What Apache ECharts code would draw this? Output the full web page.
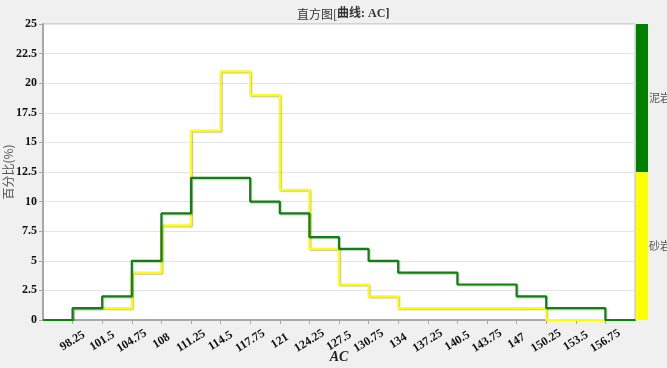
<!DOCTYPE html>
<html>
<head>
<meta charset="utf-8">
<script src="https://cdn.jsdelivr.net/npm/echarts@6/dist/echarts.min.js"></script>
<style>
html,body{margin:0;padding:0;background:#f0f0f0;}
#chart{width:667px;height:368px;}
</style>
</head>
<body>
<div id="chart"></div>
<script>
// Bin left edges (bin width 3.25), last entry is the right edge of the last bin
var binEdges = [95, 98.25, 101.5, 104.75, 108, 111.25, 114.5, 117.75, 121, 124.25, 127.5, 130.75, 134, 137.25, 140.5, 143.75, 147, 150.25, 153.5, 156.75, 160];
// Percent per bin (泥岩 = mudstone, 砂岩 = sandstone)
var mudstone  = [0, 1, 2, 5, 9, 12, 12, 10, 9, 7, 6, 5, 4, 4, 3, 3, 2, 1, 1, 0];
var sandstone = [0, 1, 1, 4, 8, 16, 21, 19, 11, 6, 3, 2, 1, 1, 1, 1, 1, 0, 0, 0];
var seriesNames = ['砂岩', '泥岩'];
var yTicks = [0, 2.5, 5, 7.5, 10, 12.5, 15, 17.5, 20, 22.5, 25];

function stepData(vals) {
  var d = [];
  for (var i = 0; i < vals.length; i++) d.push([binEdges[i], vals[i]]);
  d.push([binEdges[binEdges.length - 1], 0]);
  return d;
}

var chart = echarts.init(document.getElementById('chart'));
var serif = '"Liberation Serif", "Times New Roman", serif';
var cjk = '"Noto Sans CJK SC", sans-serif';

var gridTop = 24, gridBottom = 320;
var barX = 636, barW = 12;
var mid = gridTop + (gridBottom - gridTop) * 0.5;

chart.setOption({
  backgroundColor: '#f0f0f0',
  animation: false,
  title: {
    text: '{a|直方图[}{b|曲线: AC]}',
    left: 292,
    top: 3,
    textStyle: {
      rich: {
        a: { fontSize: 12, fontWeight: 'normal', color: '#333', fontFamily: '"Noto Sans CJK SC", serif' },
        b: { fontSize: 12, fontWeight: 'bold', color: '#333', fontFamily: '"Liberation Serif", "Noto Sans CJK SC", serif' }
      }
    }
  },
  grid: {
    left: 43, right: 32, top: gridTop, bottom: 368 - gridBottom,
    containLabel: false, outerBoundsMode: 'none',
    show: true, backgroundColor: '#ffffff', borderColor: '#b4b4b4', borderWidth: 1
  },
  xAxis: {
    type: 'value',
    min: binEdges[0],
    max: binEdges[binEdges.length - 1],
    interval: 3.25,
    name: 'AC',
    nameLocation: 'middle',
    nameGap: 37,
    nameMoveOverlap: false,
    nameTextStyle: { fontFamily: serif, fontWeight: 'bold', fontStyle: 'italic', fontSize: 14, color: '#222', verticalAlign: 'middle' },
    axisLine: { show: true, lineStyle: { color: '#a8a8a8', width: 2 } },
    axisTick: { show: true, length: 4, lineStyle: { color: '#a8a8a8' } },
    splitLine: { show: false },
    axisLabel: {
      rotate: 32,
      align: 'center',
      verticalAlign: 'middle',
      margin: 21,
      showMinLabel: false,
      showMaxLabel: false,
      fontFamily: serif, fontWeight: 'bold', fontSize: 12, color: '#111',
      formatter: function (v) { return String(+v.toFixed(2)); }
    }
  },
  yAxis: {
    type: 'value',
    min: yTicks[0],
    max: yTicks[yTicks.length - 1],
    interval: 2.5,
    name: '百分比(%)',
    nameLocation: 'middle',
    nameGap: 35,
    nameMoveOverlap: false,
    nameTextStyle: { fontFamily: cjk, fontSize: 12, color: '#555', verticalAlign: 'middle' },
    axisLine: { show: true, lineStyle: { color: '#a8a8a8', width: 2 } },
    axisTick: { show: true, length: 4, lineStyle: { color: '#a8a8a8' } },
    splitLine: { show: true, lineStyle: { color: '#e4e4e4', width: 1 } },
    axisLabel: { margin: 6, fontFamily: serif, fontWeight: 'bold', fontSize: 12, color: '#111' }
  },
  series: [
    {
      name: seriesNames[0], type: 'line', step: 'end', symbol: 'none',
      data: stepData(sandstone),
      lineStyle: { color: '#ffff00', width: 2.2, shadowColor: 'rgba(0,0,0,0.25)', shadowBlur: 1, shadowOffsetX: 1, shadowOffsetY: 1 },
      z: 2
    },
    {
      name: seriesNames[1], type: 'line', step: 'end', symbol: 'none',
      data: stepData(mudstone),
      lineStyle: { color: '#108010', width: 2.2, shadowColor: 'rgba(0,0,0,0.2)', shadowBlur: 1, shadowOffsetX: 1, shadowOffsetY: 1 },
      z: 3
    }
  ],
  graphic: [
    { type: 'rect', shape: { x: barX, y: gridTop, width: barW, height: mid - gridTop }, style: { fill: '#008000' } },
    { type: 'rect', shape: { x: barX, y: mid, width: barW, height: gridBottom - mid }, style: { fill: '#ffff00' } },
    { type: 'text', x: barX + barW + 1, y: (gridTop + mid) / 2, style: { text: seriesNames[1], fill: '#555', font: '11px "Noto Sans CJK SC", sans-serif', verticalAlign: 'middle' } },
    { type: 'text', x: barX + barW + 1, y: (mid + gridBottom) / 2, style: { text: seriesNames[0], fill: '#555', font: '11px "Noto Sans CJK SC", sans-serif', verticalAlign: 'middle' } }
  ]
});
</script>
</body>
</html>
